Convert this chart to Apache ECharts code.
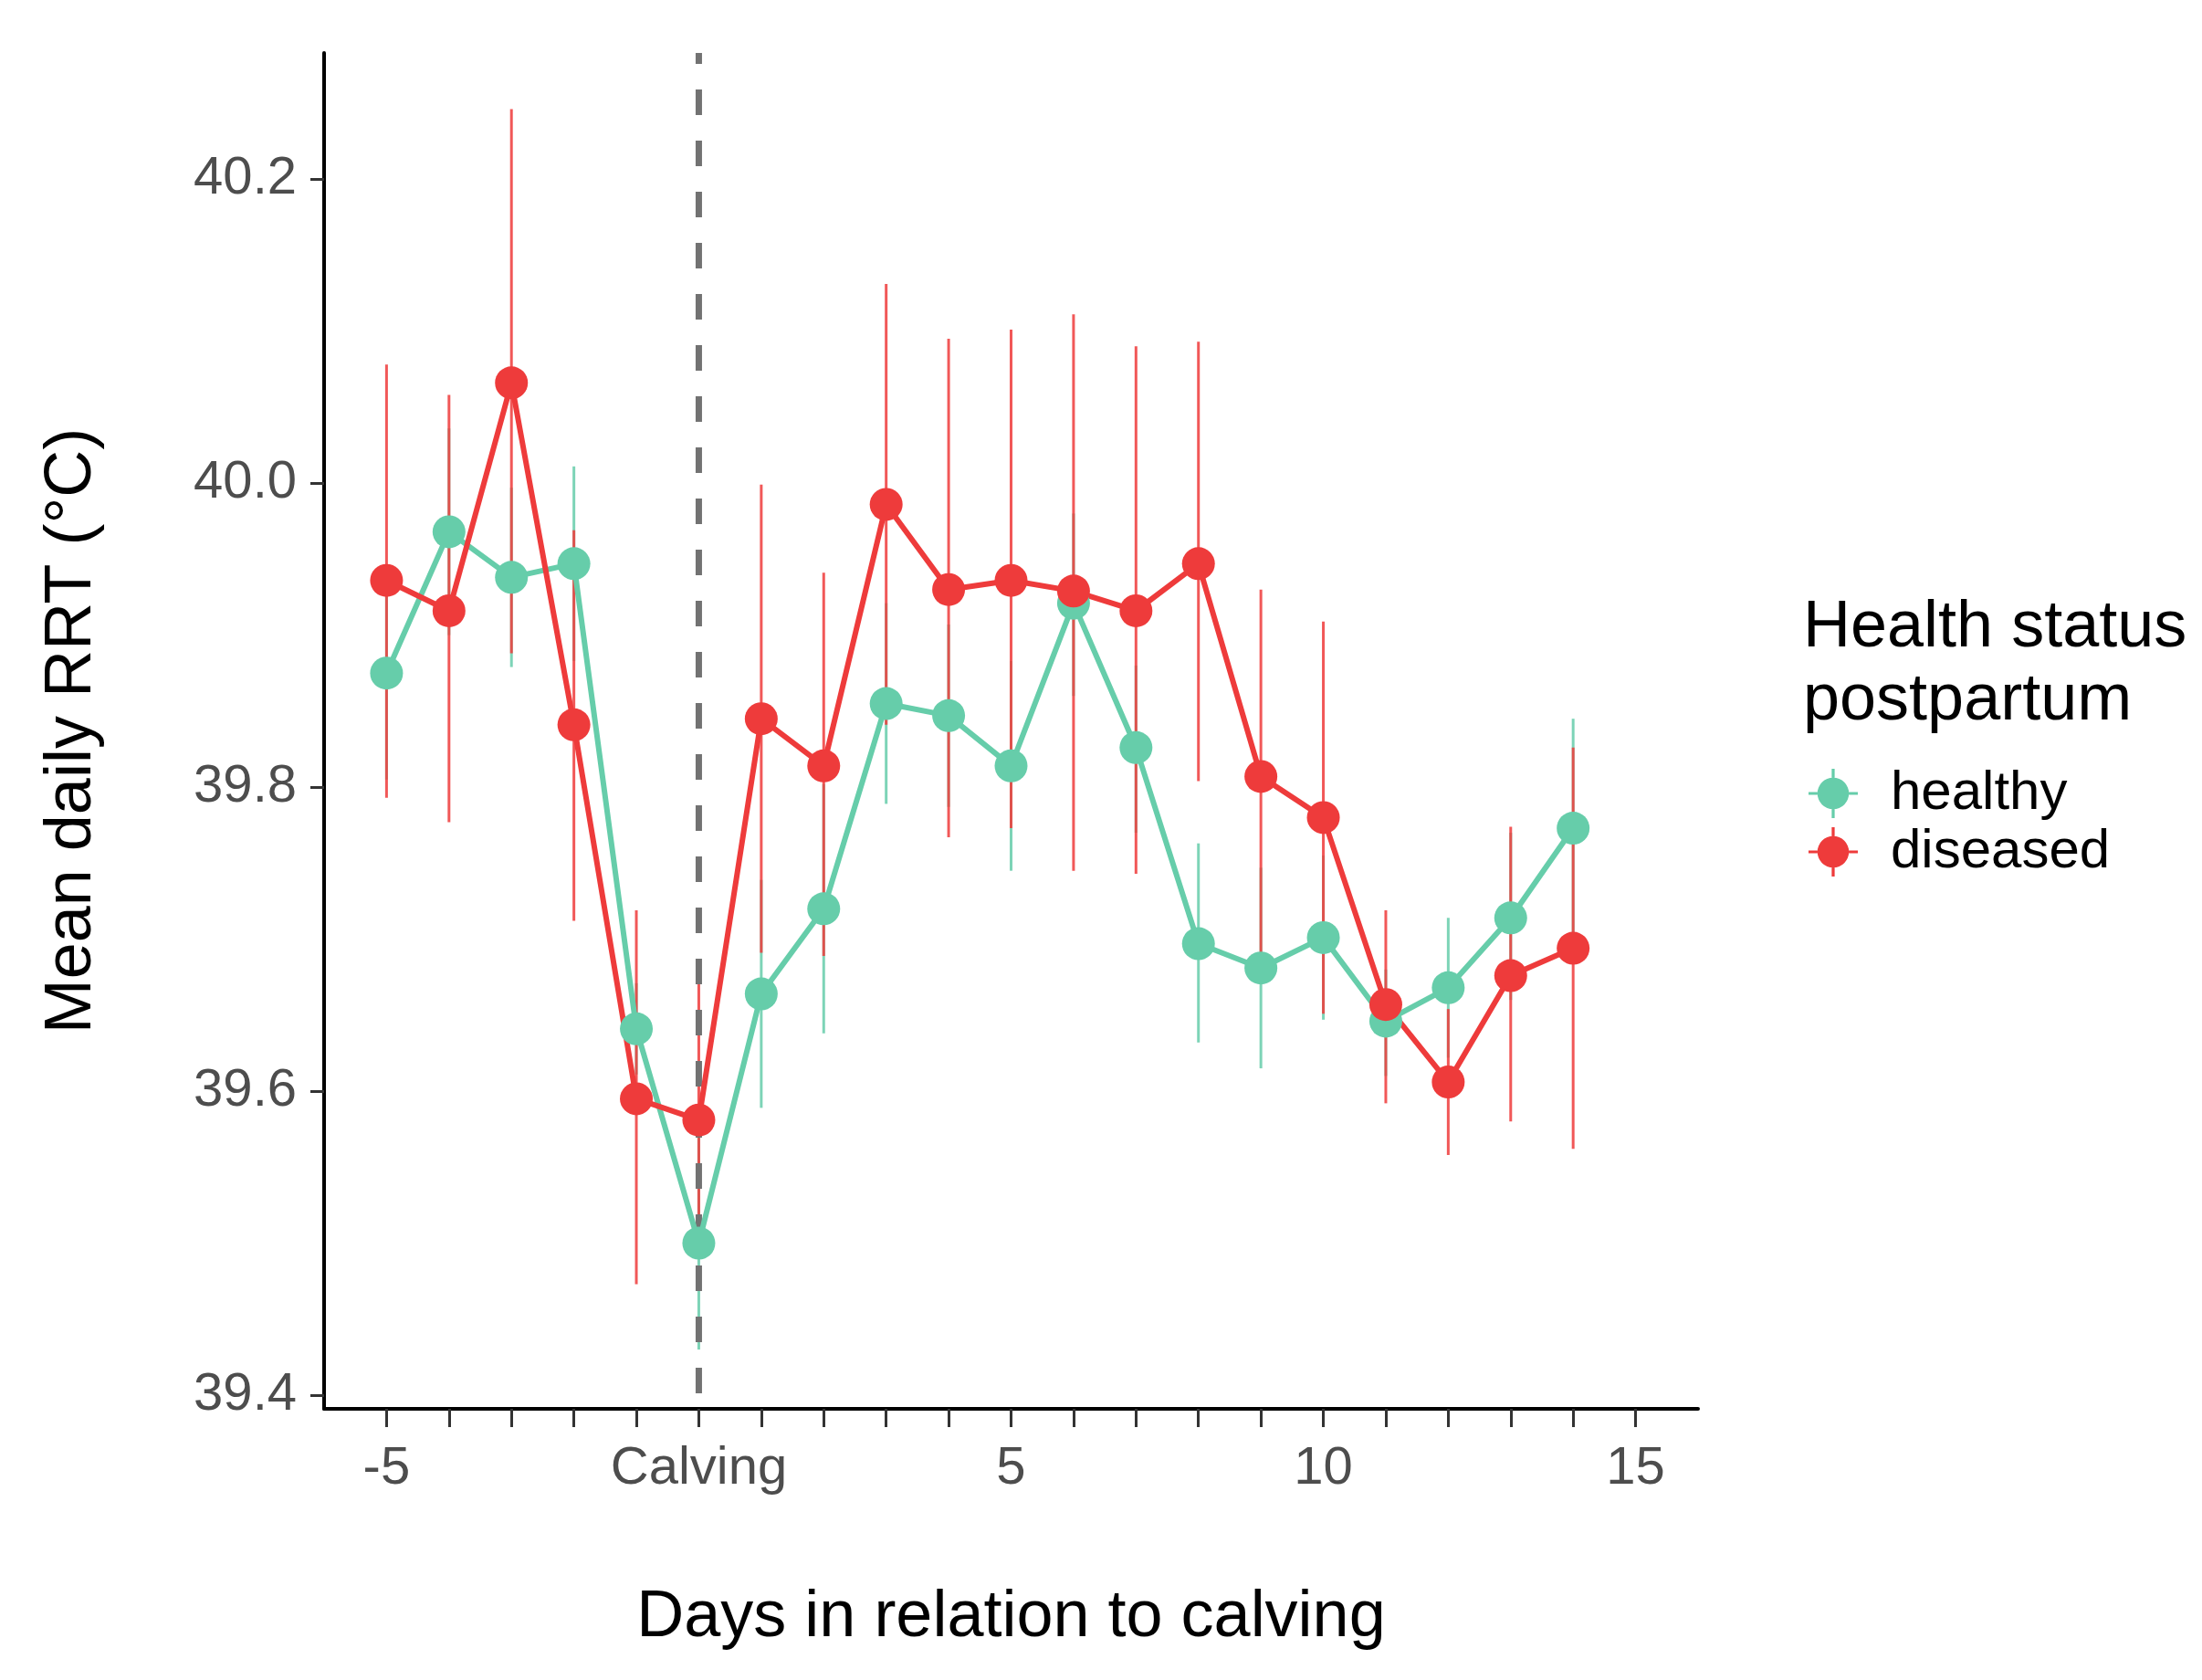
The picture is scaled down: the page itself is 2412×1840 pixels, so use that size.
<!DOCTYPE html>
<html>
<head>
<meta charset="utf-8">
<script src="https://cdn.jsdelivr.net/npm/echarts@6/dist/echarts.min.js"></script>
<style>
html,body{margin:0;padding:0;background:#fff;}
#c{width:2412px;height:1840px;}
</style>
</head>
<body>
<div id="c"></div>
<script>
const days = [-5,-4,-3,-2,-1,0,1,2,3,4,5,6,7,8,9,10,11,12,13,14];
const healthyMean = [39.875,39.968,39.938,39.947,39.641,39.500,39.664,39.720,39.855,39.847,39.814,39.921,39.826,39.697,39.681,39.701,39.646,39.668,39.714,39.773];
const healthyLow  = [39.805,39.900,39.879,39.883,39.611,39.430,39.589,39.638,39.789,39.787,39.745,39.860,39.770,39.632,39.615,39.647,39.610,39.622,39.660,39.700];
const healthyHigh = [39.945,40.036,39.997,40.011,39.671,39.570,39.739,39.802,39.921,39.907,39.883,39.980,39.880,39.763,39.747,39.755,39.680,39.714,39.770,39.845];
const diseasedMean = [39.936,39.916,40.066,39.841,39.595,39.581,39.845,39.814,39.986,39.930,39.936,39.929,39.916,39.947,39.807,39.780,39.657,39.606,39.676,39.694];
const diseasedLow  = [39.793,39.777,39.888,39.712,39.473,39.490,39.691,39.689,39.841,39.767,39.773,39.745,39.743,39.804,39.684,39.651,39.592,39.558,39.580,39.562];
const diseasedHigh = [40.078,40.058,40.246,39.969,39.719,39.672,39.999,39.941,40.131,40.095,40.101,40.111,40.090,40.093,39.930,39.909,39.719,39.654,39.774,39.826];
const xTickValues = [-5,-4,-3,-2,-1,0,1,2,3,4,5,6,7,8,9,10,11,12,13,14,15];
const xLabelValues = [-5,0,5,10,15];
const yTickValues = [39.4,39.6,39.8,40.0,40.2];
const seriesNames = ['healthy','diseased'];
const legendTitle = 'Health status\npostpartum';
const xTitle = 'Days in relation to calving';
const yTitle = 'Mean daily RRT (°C)';

const TEAL = '#66CDAA';
const RED = '#EE3B3B';
const FONT = 'Liberation Sans, Arial, sans-serif';

function pairs(x, y){ return x.map((d,i)=>[d,y[i]]); }
function bars(x, lo, hi){ return x.map((d,i)=>[d,lo[i],hi[i]]); }

function errRender(color){
  return function(params, api){
    const x = api.value(0);
    const p1 = api.coord([x, api.value(1)]);
    const p2 = api.coord([x, api.value(2)]);
    return {type:'line', shape:{x1:p1[0],y1:p1[1],x2:p2[0],y2:p2[1]},
            style:{stroke:color, lineWidth:3, opacity:0.85}};
  };
}

const legendIcon = 'path://M50,18 A32,32 0 1,1 49.99,18 Z M0,47 L18,47 L18,53 L0,53 Z M82,47 L100,47 L100,53 L82,53 Z M47,0 L53,0 L53,18 L47,18 Z M47,82 L53,82 L53,100 L47,100 Z';

const chart = echarts.init(document.getElementById('c'), null, {renderer:'canvas'});
chart.setOption({
  backgroundColor:'#ffffff',
  animation:false,
  grid:{left:355, right:552, top:58, bottom:297, containLabel:false},
  xAxis:{
    type:'value', min:-6, max:16,
    name:xTitle, nameLocation:'middle', nameGap:193,
    nameTextStyle:{fontFamily:FONT, fontSize:72, color:'#000'},
    axisLine:{show:true, onZero:false, lineStyle:{color:'#000', width:4}},
    axisTick:{show:true, length:20, customValues:xTickValues, lineStyle:{color:'#333', width:3}},
    axisLabel:{show:true, customValues:xLabelValues, margin:37, fontFamily:FONT, fontSize:58, color:'#4D4D4D',
      formatter:function(v){ return v===0 ? 'Calving' : String(v); }},
    splitLine:{show:false}
  },
  yAxis:{
    type:'value', min:39.391, max:40.283,
    name:yTitle, nameLocation:'middle', nameGap:240, nameRotate:90,
    nameTextStyle:{fontFamily:FONT, fontSize:72, color:'#000'},
    axisLine:{show:true, onZero:false, lineStyle:{color:'#000', width:4}},
    axisTick:{show:true, length:15, customValues:yTickValues, lineStyle:{color:'#333', width:3}},
    axisLabel:{show:true, customValues:yTickValues, margin:30, fontFamily:FONT, fontSize:58, color:'#4D4D4D',
      padding:[9,0,0,0],
      formatter:function(v){ return Number(v).toFixed(1); }},
    splitLine:{show:false}
  },
  legend:{
    show:true, orient:'vertical', left:1976, top:834,
    itemWidth:54, itemHeight:54, itemGap:4,
    icon:legendIcon,
    data:seriesNames,
    textStyle:{fontFamily:FONT, fontSize:60, color:'#000', padding:[0,0,0,31], lineHeight:54}
  },
  graphic:[{
    type:'text', left:1975, top:648,
    style:{text:legendTitle, fontFamily:FONT, fontSize:72, fill:'#000', lineHeight:80}
  }],
  series:[
    {type:'custom', name:'healthy-err', renderItem:errRender(TEAL), data:bars(days, healthyLow, healthyHigh),
     encode:{x:0, y:[1,2]}, z:1, silent:true},
    {type:'custom', name:'diseased-err', renderItem:errRender(RED), data:bars(days, diseasedLow, diseasedHigh),
     encode:{x:0, y:[1,2]}, z:1, silent:true},
    {type:'custom', name:'calving-line', z:2, silent:true,
     data:[[0, 39.8]], encode:{x:0, y:1},
     renderItem:function(params, api){
       const cs = params.coordSys;
       const p = api.coord([api.value(0), api.value(1)]);
       return {type:'line', shape:{x1:p[0], y1:cs.y, x2:p[0], y2:cs.y+cs.height},
               style:{stroke:'#727272', lineWidth:7, lineDash:[28,28], lineDashOffset:16}};
     }},
    {type:'line', name:seriesNames[0], data:pairs(days, healthyMean), z:3,
     symbol:'circle', symbolSize:36, showAllSymbol:true,
     lineStyle:{color:TEAL, width:6}, itemStyle:{color:TEAL}},
    {type:'line', name:seriesNames[1], data:pairs(days, diseasedMean), z:3,
     symbol:'circle', symbolSize:36, showAllSymbol:true,
     lineStyle:{color:RED, width:6}, itemStyle:{color:RED}}
  ]
});
</script>
</body>
</html>
